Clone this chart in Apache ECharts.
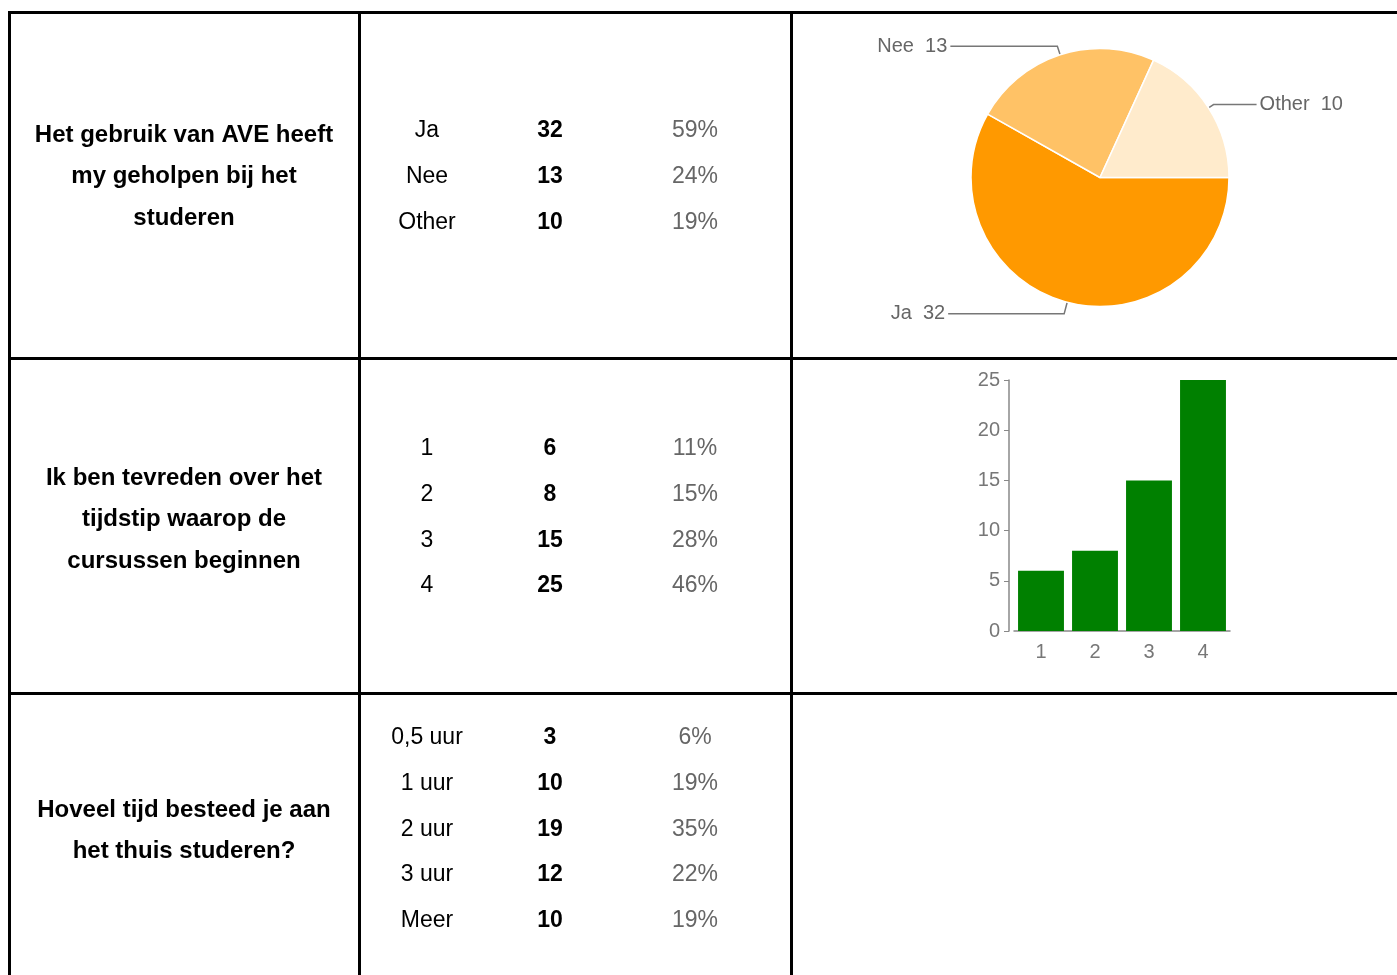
<!DOCTYPE html>
<html>
<head>
<meta charset="utf-8">
<title>AVE enquete</title>
<script src="https://cdn.jsdelivr.net/npm/echarts@6/dist/echarts.min.js"></script>
<style>
  html, body { margin: 0; padding: 0; background: #fff; }
  #main { width: 1397px; height: 975px; }
</style>
</head>
<body>
<div id="main"></div>
<script>
// vragen en antwoorden
var questions = [
  ['Het gebruik van AVE heeft', 'my geholpen bij het', 'studeren'],
  ['Ik ben tevreden over het', 'tijdstip waarop de', 'cursussen beginnen'],
  ['Hoveel tijd besteed je aan', 'het thuis studeren?']
];
var q1Labels = ['Ja', 'Nee', 'Other'];
var q1Counts = [32, 13, 10];
var q1Pct = ['59%', '24%', '19%'];
var q2Labels = ['1', '2', '3', '4'];
var q2Counts = [6, 8, 15, 25];
var q2Pct = ['11%', '15%', '28%', '46%'];
var q3Labels = ['0,5 uur', '1 uur', '2 uur', '3 uur', 'Meer'];
var q3Counts = [3, 10, 19, 12, 10];
var q3Pct = ['6%', '19%', '35%', '22%', '19%'];
var yTicks = [0, 25, 5]; // min, max, interval

var pieColors = ['#ff9900', '#ffc266', '#ffebcc'];
// labelLine lengte per stuk
var pieLine = [[12, 116], [9, 107], [6, 43]];

var FONT = '"Liberation Sans", Arial, sans-serif';

var chart = echarts.init(document.getElementById('main'));

var answers = [
  { labels: q1Labels, counts: q1Counts, pct: q1Pct },
  { labels: q2Labels, counts: q2Counts, pct: q2Pct },
  { labels: q3Labels, counts: q3Counts, pct: q3Pct }
];
var answerTop = [131, 449, 738];
var questionTop = [135, 478, 810];

var graphics = [];

function line(x1, y1, x2, y2) {
  graphics.push({
    type: 'line',
    shape: { x1: x1, y1: y1, x2: x2, y2: y2 },
    style: { stroke: '#000', lineWidth: 3 },
    z: 10
  });
}
function txt(x, y, s, opts) {
  graphics.push({
    type: 'text',
    x: x, y: y,
    style: {
      text: s,
      fill: opts.color || '#000',
      font: (opts.bold ? 'bold ' : '') + (opts.size || 23) + 'px ' + FONT,
      textAlign: 'center',
      textVerticalAlign: 'middle'
    }
  });
}

// tabel randen
line(8, 12.5, 1397, 12.5);
line(9.5, 11, 9.5, 975);
line(359.5, 11, 359.5, 975);
line(791.5, 11, 791.5, 975);
line(8, 358.5, 1397, 358.5);
line(8, 693.5, 1397, 693.5);

for (var r = 0; r < questions.length; r++) {
  for (var i = 0; i < questions[r].length; i++) {
    txt(184, questionTop[r] + i * 41.5, questions[r][i], { bold: true, size: 24 });
  }
  var a = answers[r];
  for (var j = 0; j < a.labels.length; j++) {
    var y = answerTop[r] + j * 45.6;
    txt(427, y, a.labels[j], {});
    txt(550, y, String(a.counts[j]), { bold: true });
    txt(695, y, a.pct[j], { color: '#666' });
  }
}

var pieData = [];
for (var k = 0; k < q1Labels.length; k++) {
  pieData.push({
    name: q1Labels[k],
    value: q1Counts[k],
    itemStyle: { color: pieColors[k] },
    labelLine: { length: pieLine[k][0], length2: pieLine[k][1] }
  });
}

var option = {
  animation: false,
  graphic: graphics,
  grid: { left: 1014, top: 380, width: 216, height: 251 },
  xAxis: {
    type: 'category',
    data: q2Labels,
    axisLine: { lineStyle: { color: '#888', width: 1.5 } },
    axisTick: { alignWithLabel: true, length: 5, lineStyle: { color: '#888' } },
    axisLabel: { color: '#777', fontSize: 20, fontFamily: FONT, margin: 11 }
  },
  yAxis: {
    type: 'value',
    min: yTicks[0], max: yTicks[1], interval: yTicks[2],
    offset: 5,
    axisLine: { show: true, lineStyle: { color: '#888', width: 1.5 } },
    axisTick: { show: true, length: 5, lineStyle: { color: '#888' } },
    splitLine: { show: false },
    axisLabel: { color: '#777', fontSize: 20, fontFamily: FONT, margin: 9 }
  },
  series: [
    {
      type: 'pie',
      center: [1100, 177.5],
      radius: 129,
      startAngle: 0,
      clockwise: true,
      avoidLabelOverlap: false,
      itemStyle: { borderColor: '#fff', borderWidth: 1.5 },
      label: {
        show: true,
        position: 'outside',
        formatter: '{b}  {c}',
        color: '#666',
        fontSize: 20,
        fontFamily: FONT,
        distanceToLabelLine: 3
      },
      labelLine: { show: true, smooth: false, lineStyle: { color: '#777', width: 1.5 } },
      emphasis: { disabled: true },
      data: pieData
    },
    {
      type: 'bar',
      data: q2Counts,
      barCategoryGap: '15%',
      itemStyle: { color: '#008000' }
    }
  ]
};

chart.setOption(option);
</script>
</body>
</html>
